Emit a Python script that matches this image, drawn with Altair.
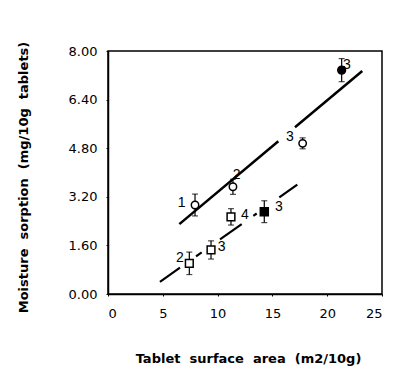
import altair as alt
import pandas as pd

# data points (surface area, moisture sorption, half error bar)
pt_x = [7.94, 11.40, 17.76, 21.32, 7.42, 9.40, 11.22, 14.26]
pt_y = [2.93, 3.53, 4.96, 7.37, 1.01, 1.45, 2.54, 2.71]
pt_err = [0.36, 0.25, 0.18, 0.38, 0.37, 0.30, 0.27, 0.36]
pt_shape = ["circle", "circle", "circle", "circle", "square", "square", "square", "square"]
pt_filled = [False, False, False, True, False, False, False, True]

# annotation labels
lab_text = ["1", "2", "3", "3", "2", "3", "4", "3"]
lab_x = [6.72, 11.74, 16.60, 21.80, 6.57, 10.37, 12.50, 15.60]
lab_y = [3.00, 3.92, 5.17, 7.54, 1.19, 1.56, 2.60, 2.87]

# fitted lines (segments)
solid_x1 = [6.51, 17.06]
solid_y1 = [2.30, 5.49]
solid_x2 = [15.54, 23.20]
solid_y2 = [5.03, 7.34]

dash_x1 = [4.74, 8.03, 10.22, 13.26, 15.63]
dash_y1 = [0.40, 1.24, 1.80, 2.57, 3.18]
dash_x2 = [6.57, 8.55, 12.20, 13.57, 17.27]
dash_y2 = [0.87, 1.37, 2.30, 2.65, 3.60]

x_ticks = [0, 5, 10, 15, 20, 25]
y_ticks = [0.0, 1.6, 3.2, 4.8, 6.4, 8.0]

x_title = "Tablet\u00a0\u00a0surface\u00a0\u00a0area\u00a0\u00a0(m2/10g)"
y_title = "Moisture\u00a0\u00a0sorption\u00a0\u00a0(mg/10g\u00a0\u00a0tablets)"

pts = pd.DataFrame({"x": pt_x, "y": pt_y, "err": pt_err,
                    "shape": pt_shape, "filled": pt_filled})
pts["lo"] = pts["y"] - pts["err"]
pts["hi"] = pts["y"] + pts["err"]
labs = pd.DataFrame({"t": lab_text, "x": lab_x, "y": lab_y})
solid = pd.DataFrame({"x": solid_x1, "y": solid_y1, "x2": solid_x2, "y2": solid_y2})
dash = pd.DataFrame({"x": dash_x1, "y": dash_y1, "x2": dash_x2, "y2": dash_y2})

xs = alt.Scale(domain=[0, 25], nice=False, zero=False)
ys = alt.Scale(domain=[0, 8], nice=False, zero=False)

xax = alt.Axis(values=x_ticks, title=x_title, grid=False,
               tickSize=2, labelPadding=11, labelFont="DejaVu Sans", labelFontSize=13,
               labelColor="black", titleFont="DejaVu Sans", titleFontSize=13,
               titleFontWeight="bold", titleColor="black", titleY=64, titleX=140,
               titleBaseline="middle", domainColor="black", domainWidth=1.5,
               tickColor="black")
yax = alt.Axis(values=y_ticks, format=".2f", title=y_title,
               grid=False, tickSize=2, labelPadding=9, labelFont="DejaVu Sans",
               labelFontSize=13, labelColor="black", titleFont="DejaVu Sans",
               titleFontSize=13, titleFontWeight="bold", titleColor="black",
               titleX=-85, titleY=126, titleAlign="center", titleBaseline="middle",
               titleLimit=400, domainColor="black", domainWidth=1.5, tickColor="black")

base_axes = alt.Chart(pts).mark_point(opacity=0).encode(
    x=alt.X("x:Q", scale=xs, axis=xax),
    y=alt.Y("y:Q", scale=ys, axis=yax),
)

solid_l = alt.Chart(solid).mark_rule(color="black", strokeWidth=2.5).encode(
    x=alt.X("x:Q", scale=xs), y=alt.Y("y:Q", scale=ys), x2="x2:Q", y2="y2:Q")
dash_l = alt.Chart(dash).mark_rule(color="black", strokeWidth=2.2).encode(
    x=alt.X("x:Q", scale=xs), y=alt.Y("y:Q", scale=ys), x2="x2:Q", y2="y2:Q")

err = alt.Chart(pts).mark_rule(color="black", strokeWidth=1.2).encode(
    x=alt.X("x:Q", scale=xs), y=alt.Y("lo:Q", scale=ys), y2="hi:Q")
cap_hi = alt.Chart(pts).mark_tick(color="black", size=6, thickness=1.2, orient="horizontal").encode(
    x=alt.X("x:Q", scale=xs), y=alt.Y("hi:Q", scale=ys))
cap_lo = alt.Chart(pts).mark_tick(color="black", size=6, thickness=1.2, orient="horizontal").encode(
    x=alt.X("x:Q", scale=xs), y=alt.Y("lo:Q", scale=ys))

def marker(shape, filled, size):
    d = pts[(pts["shape"] == shape) & (pts["filled"] == filled)]
    return alt.Chart(d).mark_point(
        shape=shape, filled=True, fill="black" if filled else "white",
        stroke="black", strokeWidth=1.5, size=size, opacity=1).encode(
        x=alt.X("x:Q", scale=xs), y=alt.Y("y:Q", scale=ys))

m1 = marker("circle", False, 55)
m2 = marker("circle", True, 60)
m3 = marker("square", False, 60)
m4 = marker("square", True, 64)

text = alt.Chart(labs).mark_text(font="Liberation Sans", fontSize=14, color="black",
                                 align="center", baseline="middle").encode(
    x=alt.X("x:Q", scale=xs), y=alt.Y("y:Q", scale=ys), text="t:N")

chart = alt.layer(base_axes, solid_l, dash_l, err, cap_hi, cap_lo, m1, m2, m3, m4, text).properties(
    width=274, height=243,
    autosize=alt.AutoSizeParams(type="none"),
    padding={"left": 108, "top": 51, "right": 12, "bottom": 74},
    background="white",
).configure_view(stroke="black", strokeWidth=1.5)

chart.save("out.html", embed_options={"renderer": "svg", "actions": False})
